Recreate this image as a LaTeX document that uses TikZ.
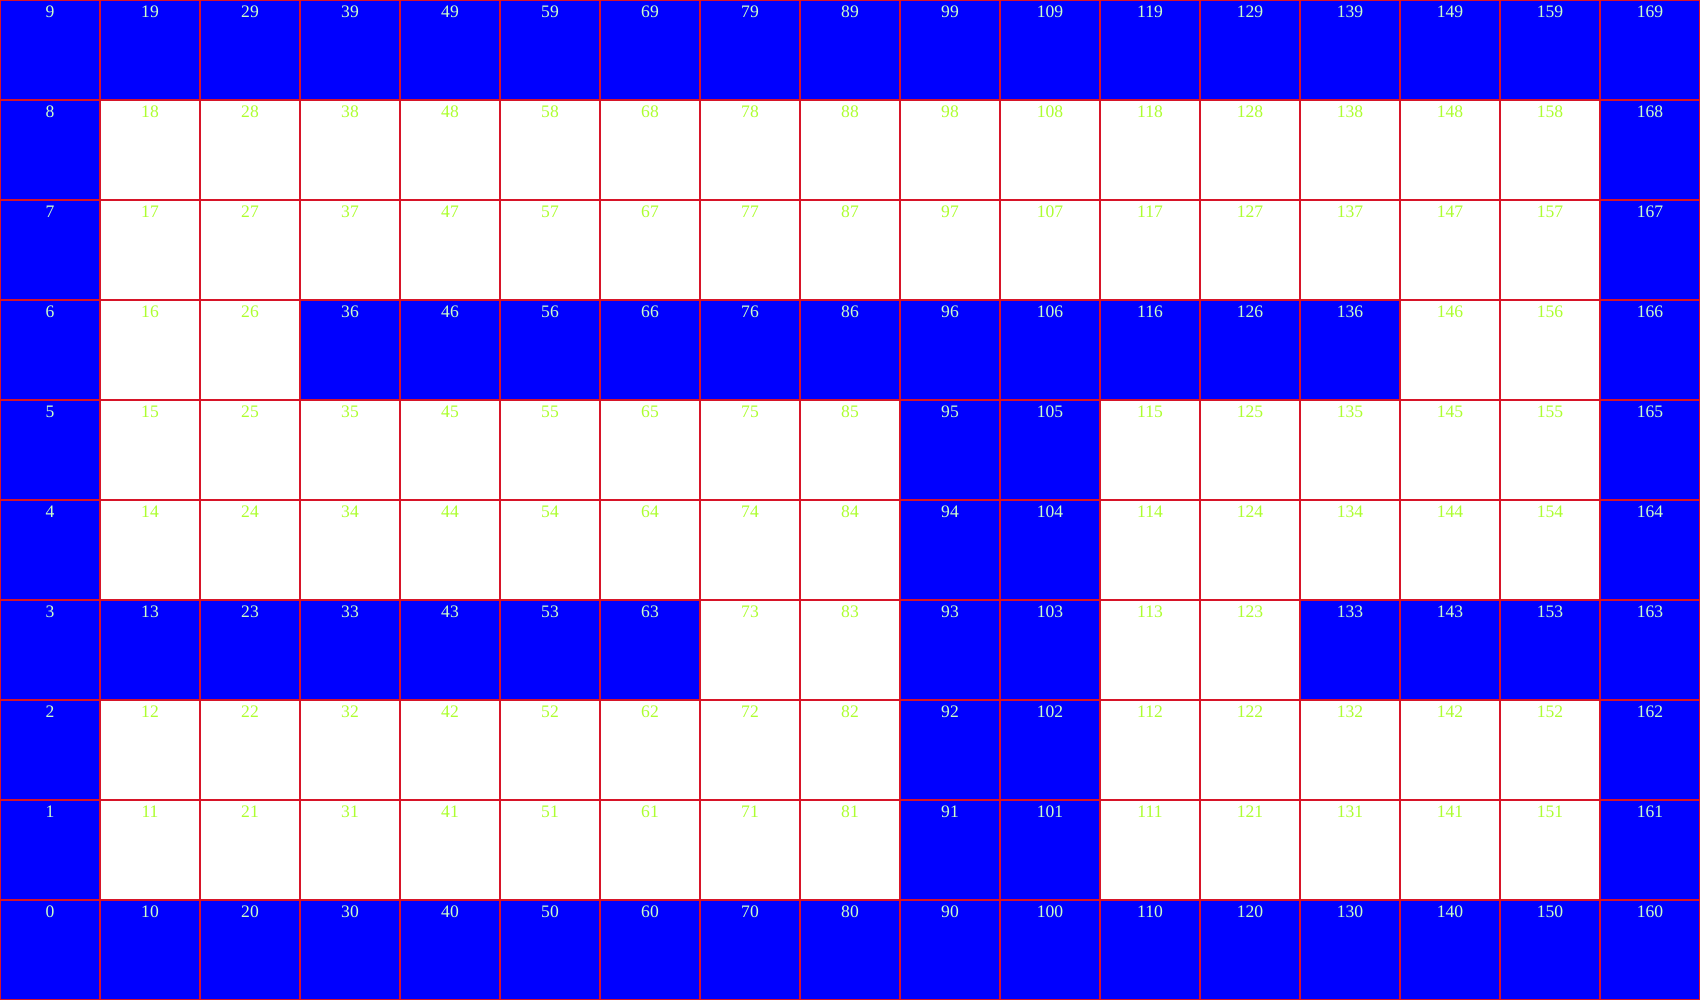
\documentclass[tikz,border=0pt]{standalone}
\usepackage{fontspec}
\setmainfont{Liberation Serif}
\definecolor{cellblue}{RGB}{0,0,255}
\definecolor{gridred}{RGB}{215,20,40}
\definecolor{lighttext}{RGB}{205,255,200}
\definecolor{greentext}{RGB}{173,255,47}
\tikzset{
  bluecell/.style={fill=cellblue, draw=none},
  label/.style={anchor=north, inner sep=0pt, font=\fontsize{5}{6}\selectfont},
  gridline/.style={draw=gridred, line width=0.6pt}
}
\begin{document}
\begin{tikzpicture}
\useasboundingbox (0,0) rectangle (17,10);
\foreach \i in {0,...,16}{
  \foreach \j in {0,...,9}{
    \pgfmathtruncatemacro\isblue{((\i==0)||(\i==16)||(\j==0)||(\j==9)||((\j==6)&&(\i>=3)&&(\i<=13))||((\j==3)&&(\i>=1)&&(\i<=6))||((\j==3)&&(\i>=13)&&(\i<=15))||(((\i==9)||(\i==10))&&(\j>=1)&&(\j<=5))) ? 1 : 0}
    \pgfmathtruncatemacro\num{\i*10+\j}
    \ifnum\isblue=1
      \fill[bluecell] (\i,\j) rectangle ++(1,1);
      \node[label, text=lighttext] (c\num) at (\i+0.5,\j+0.95) {\num};
    \else
      \node[label, text=greentext] (c\num) at (\i+0.5,\j+0.95) {\num};
    \fi
  }
}
\draw[gridline] (0,0) grid (17,10);
\draw[gridline] (0,0) rectangle (17,10);
\end{tikzpicture}
\end{document}
